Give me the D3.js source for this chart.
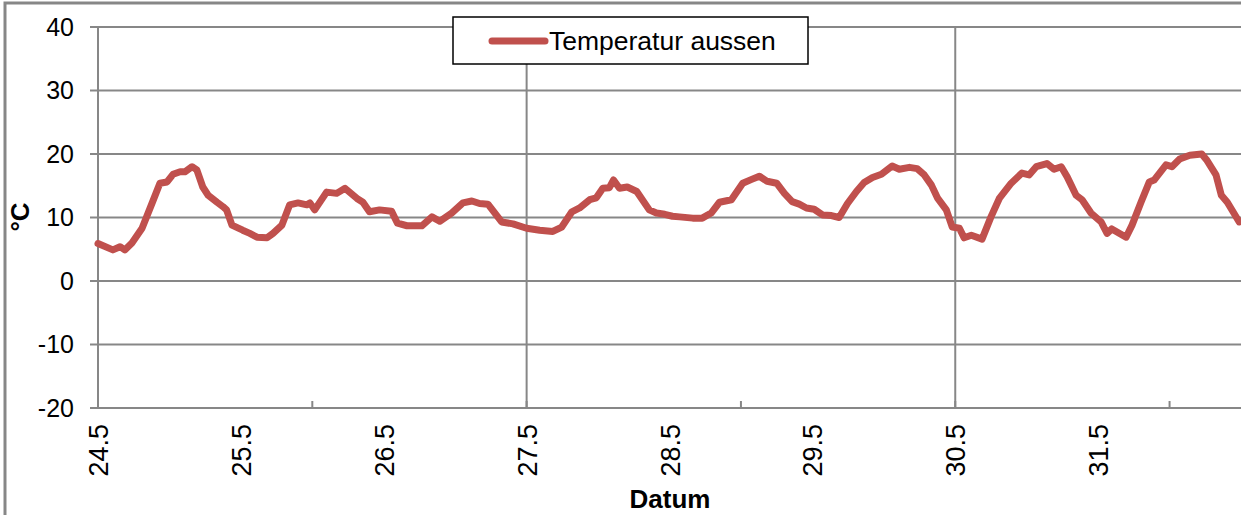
<!DOCTYPE html>
<html>
    <head>
        <meta charset="utf-8"/>
        <script src="https://cdnjs.cloudflare.com/ajax/libs/d3/7.8.5/d3.min.js"></script>
        <style>
            body { margin: 0; background: #fff; }
            svg text { font-family: "Liberation Sans", Arial, sans-serif; fill: #000; }
        </style>
    </head>
    <body>
        <div id="chart"></div>

        <script>

            // hours since 24.5. 00:00 and outside temperature in °C
            var hours = [0, 2.5, 3.7, 4.5, 5.7, 7.4, 9.1, 10.4, 11.6, 12.6, 13.8, 14.6, 15.8, 16.6, 17.6, 18.5,
                20.0, 21.0, 21.6, 22.5, 24.3, 25.5, 26.7, 28.4, 29.4, 30.9, 32.2, 33.6, 35.1, 35.6, 36.4,
                38.4, 40.1, 41.5, 43.5, 44.5, 45.6, 47.3, 49.3, 50.3, 51.9, 54.4, 56.1, 57.4, 59.4, 61.3,
                62.8, 64.1, 65.5, 67.8, 69.7, 72.0, 74.2, 76.4, 77.9, 79.6, 80.9, 82.6, 83.7, 84.8, 85.9,
                86.6, 87.6, 88.9, 90.5, 92.6, 93.8, 95.2, 96.5, 97.7, 99.9, 101.5, 103.0, 104.4, 106.4,
                108.3, 109.8, 111.1, 112.4, 114.0, 115.3, 116.6, 117.8, 119.0, 120.3, 121.7, 123.2, 124.5,
                125.9, 127.4, 128.7, 130.1, 131.6, 133.4, 134.6, 136.3, 137.6, 138.8, 140.0, 141.0, 142.5,
                143.5, 144.7, 145.5, 146.7, 148.5, 150.0, 151.4, 153.4, 155.2, 156.4, 157.6, 159.4, 160.6,
                161.8, 162.8, 164.3, 165.3, 166.8, 168.5, 169.5, 170.3, 172.7, 173.7, 175.2, 176.6, 177.4,
                179.4, 180.4, 181.7, 183.4, 185.4, 186.2, 187.8, 188.7, 189.7, 191.7];

            var tempAussen = [5.9, 4.9, 5.4, 4.9, 6.0, 8.3, 12.3, 15.4, 15.6, 16.8, 17.2, 17.2, 18.0, 17.5, 14.8, 13.5,
                12.4, 11.7, 11.2, 8.8, 8.0, 7.5, 6.9, 6.8, 7.5, 8.8, 12.0, 12.3, 12.0, 12.3, 11.2,
                14.0, 13.8, 14.6, 13.0, 12.4, 10.9, 11.2, 11.0, 9.1, 8.7, 8.7, 10.1, 9.4, 10.7, 12.3,
                12.6, 12.2, 12.1, 9.3, 9.0, 8.3, 8.0, 7.8, 8.5, 10.9, 11.5, 12.8, 13.1, 14.6, 14.7,
                15.9, 14.6, 14.8, 14.1, 11.2, 10.7, 10.5, 10.2, 10.1, 9.9, 9.9, 10.7, 12.4, 12.8,
                15.4, 16.0, 16.5, 15.7, 15.4, 13.8, 12.5, 12.1, 11.5, 11.3, 10.4, 10.3, 10.0,
                12.2, 14.1, 15.5, 16.3, 16.8, 18.1, 17.6, 17.9, 17.7, 16.7, 15.1, 13.1, 11.2,
                8.5, 8.3, 6.8, 7.2, 6.6, 10.1, 13.0, 15.4, 17.0, 16.7, 18.0, 18.5, 17.6,
                18.0, 16.4, 13.5, 12.8, 10.7, 9.3, 7.5, 8.2, 6.9, 8.8, 12.4, 15.6, 15.9,
                18.3, 18.0, 19.2, 19.8, 20.0, 19.1, 16.7, 13.5, 12.4, 9.3];

            var startDay = 24.5;
            var dayLabels = ["24.5", "25.5", "26.5", "27.5", "28.5", "29.5", "30.5", "31.5"];
            var tickDays = [24.5, 26, 27.5, 29, 30.5, 32];      // little tick marks on the x axis
            var gridDays = [27.5, 30.5];                        // vertical gridlines
            var yTicks = [-20, -10, 0, 10, 20, 30, 40];
            var seriesName = "Temperatur aussen";

            var width = 1241, height = 515;
            // note: "top" is taken by window.top, so prefixed names
            var plotLeft = 98, plotRight = 1241, plotTop = 27, plotBottom = 408;

            var svg = d3.select("#chart").append("svg")
                .attr("width", width)
                .attr("height", height);

            var x = d3.scaleLinear().domain([24.5, 32.5]).range([plotLeft, plotRight]);
            var y = d3.scaleLinear().domain([-20, 40]).range([plotBottom, plotTop]);

            var grey = "#878787";

            /* outer chart frame (only top and left edge are visible) */
            svg.append("rect")
                .attr("x", 5).attr("y", 3)
                .attr("width", width + 20).attr("height", height + 20)
                .attr("fill", "none")
                .attr("stroke", grey)
                .attr("stroke-width", 3);

            // horizontal gridlines incl. the little tick to the left of the axis
            svg.append("g").selectAll("line")
                .data(yTicks)
                .enter().append("line")
                .attr("x1", plotLeft - 8).attr("x2", plotRight)
                .attr("y1", function(d) { return y(d); })
                .attr("y2", function(d) { return y(d); })
                .attr("stroke", grey)
                .attr("stroke-width", 2);

            // vertical gridlines
            svg.append("g").selectAll("line")
                .data(gridDays)
                .enter().append("line")
                .attr("x1", function(d) { return x(d); })
                .attr("x2", function(d) { return x(d); })
                .attr("y1", plotTop).attr("y2", plotBottom)
                .attr("stroke", grey)
                .attr("stroke-width", 2);

            // y axis line
            svg.append("line")
                .attr("x1", plotLeft).attr("x2", plotLeft)
                .attr("y1", plotTop).attr("y2", plotBottom)
                .attr("stroke", grey)
                .attr("stroke-width", 2);

            // x tick marks, pointing up into the plot
            svg.append("g").selectAll("line")
                .data(tickDays)
                .enter().append("line")
                .attr("x1", function(d) { return x(d); })
                .attr("x2", function(d) { return x(d); })
                .attr("y1", plotBottom - 7).attr("y2", plotBottom)
                .attr("stroke", grey)
                .attr("stroke-width", 2);

            // y labels
            svg.append("g").selectAll("text")
                .data(yTicks)
                .enter().append("text")
                .attr("x", 74)
                .attr("y", function(d) { return y(d); })
                .attr("dy", "0.35em")
                .attr("text-anchor", "end")
                .style("font-size", "25px")
                .text(function(d) { return d; });

            // x labels, rotated
            svg.append("g").selectAll("text")
                .data(dayLabels)
                .enter().append("text")
                .attr("transform", function(d, i) {
                    return "translate(" + (x(startDay + i) + 10) + ",424) rotate(-90)";
                })
                .attr("text-anchor", "end")
                .style("font-size", "27px")
                .text(function(d) { return d; });

            // axis titles
            svg.append("text")
                .attr("x", 670).attr("y", 508)
                .attr("text-anchor", "middle")
                .style("font-size", "26px")
                .style("font-weight", "bold")
                .text("Datum");

            svg.append("text")
                .attr("transform", "translate(29,217) rotate(-90)")
                .attr("text-anchor", "middle")
                .style("font-size", "26px")
                .style("font-weight", "bold")
                .text("°C");

            /* the temperature line */
            var line = d3.line()
                .x(function(d, i) { return x(startDay + hours[i] / 24); })
                .y(function(d) { return y(d); });

            svg.append("path")
                .datum(tempAussen)
                .attr("d", line)
                .attr("fill", "none")
                .attr("stroke", "#C0504D")
                .attr("stroke-width", 7)
                .attr("stroke-linejoin", "round")
                .attr("stroke-linecap", "round");

            // legend
            var legend = svg.append("g");
            legend.append("rect")
                .attr("x", 453).attr("y", 17)
                .attr("width", 355).attr("height", 47)
                .attr("fill", "#fff")
                .attr("stroke", "#000")
                .attr("stroke-width", 1.5);
            legend.append("line")
                .attr("x1", 492).attr("x2", 545)
                .attr("y1", 41).attr("y2", 41)
                .attr("stroke", "#C0504D")
                .attr("stroke-width", 7)
                .attr("stroke-linecap", "round");
            legend.append("text")
                .attr("x", 549).attr("y", 50)
                .style("font-size", "26.5px")
                .text(seriesName);

        </script>
    </body>
</html>
